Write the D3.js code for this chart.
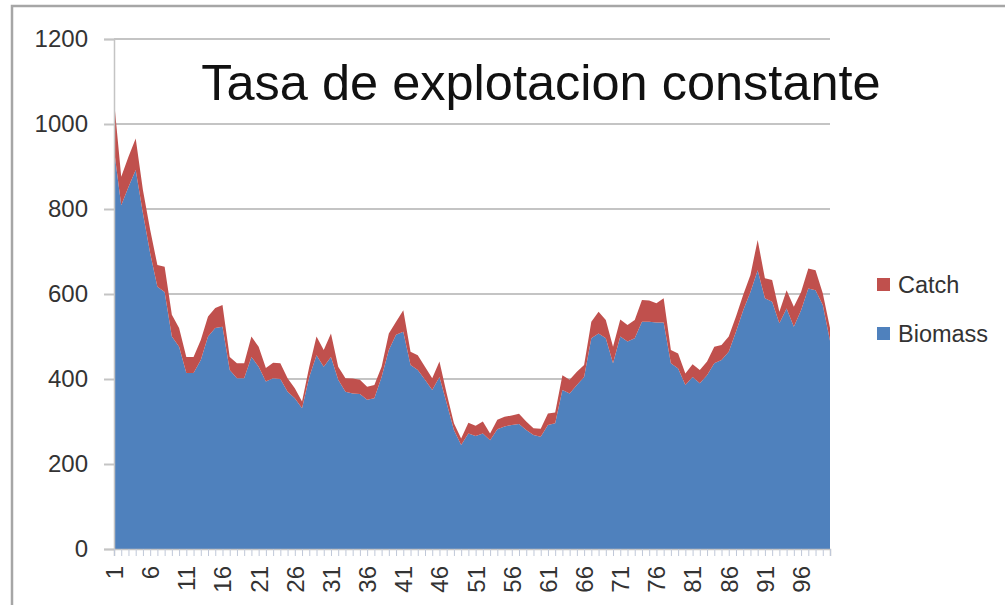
<!DOCTYPE html>
<html>
<head>
<meta charset="utf-8">
<script src="https://cdn.jsdelivr.net/npm/d3@7"></script>
<style>
  html, body { margin: 0; padding: 0; background: #ffffff; }
  svg { display: block; }
</style>
</head>
<body>
<svg id="chart" width="1005" height="605"></svg>
<script>
// ---- data ----
const categories = d3.range(1, 101);
const biomass = [
  940, 809, 852, 892, 790, 696, 617, 605, 500, 476,
  414, 414, 445, 500, 520, 523, 421, 402, 402, 452,
  429, 394, 402, 400, 370, 355, 331, 405, 456, 429,
  452, 398, 370, 366, 365, 351, 355, 405, 468, 504,
  511, 433, 421, 398, 374, 405, 343, 280, 245, 272,
  266, 272, 256, 282, 288, 292, 294, 280, 268, 264,
  292, 296, 374, 366, 386, 405, 496, 507, 496, 437,
  500, 488, 496, 535, 535, 533, 533, 437, 425, 386,
  405, 390, 409, 437, 445, 464, 511, 562, 605, 656,
  590, 582, 531, 566, 523, 562, 613, 609, 574, 490
];
const totals = [
  1056, 876, 923, 966, 845, 751, 668, 664, 551, 520,
  452, 452, 492, 547, 567, 574, 452, 437, 437, 500,
  476, 426, 438, 437, 402, 378, 347, 429, 500, 468,
  507, 429, 402, 401, 398, 382, 386, 429, 507, 535,
  562, 464, 456, 429, 402, 441, 366, 296, 260, 297,
  290, 300, 272, 304, 311, 314, 318, 300, 284, 283,
  319, 321, 409, 398, 417, 433, 535, 558, 539, 476,
  540, 527, 539, 586, 585, 578, 590, 468, 460, 413,
  435, 421, 441, 476, 480, 500, 547, 598, 645, 727,
  637, 633, 558, 609, 570, 605, 660, 656, 602, 520
];
const catchVals = totals.map((t, i) => t - biomass[i]);
const seriesNames = ["Biomass", "Catch"];
const legendOrder = ["Catch", "Biomass"];
const yTicks = [0, 200, 400, 600, 800, 1000, 1200];
const titleText = "Tasa de explotacion constante";

// ---- setup ----
const colors = { Biomass: "#4F81BD", Catch: "#C0504D" };
const svg = d3.select("#chart");
const plotLeft = 114, plotRight = 830, plotTop = 39, plotBottom = 549;

const rows = categories.map((c, i) => ({ cat: c, Biomass: biomass[i], Catch: catchVals[i] }));

const x = d3.scalePoint().domain(categories).range([plotLeft, plotRight]);
const y = d3.scaleLinear().domain([0, 1200]).range([plotBottom, plotTop]);

// frame
svg.append("rect").attr("x", 12).attr("y", 6).attr("width", 1010).attr("height", 610)
  .attr("fill", "none").attr("stroke", "#A6A6A6").attr("stroke-width", 2.5);

// gridlines
svg.append("g").selectAll("line").data(yTicks.filter(d => d > 0)).join("line")
  .attr("x1", plotLeft).attr("x2", plotRight)
  .attr("y1", d => y(d)).attr("y2", d => y(d))
  .attr("stroke", "#C4C4C4").attr("stroke-width", 2);

// stacked areas
const stack = d3.stack().keys(seriesNames)(rows);
const area = d3.area()
  .x(d => x(d.data.cat))
  .y0(d => y(d[0]))
  .y1(d => y(d[1]));
svg.append("g").selectAll("path").data(stack).join("path")
  .attr("d", area)
  .attr("fill", d => colors[d.key]);

// y axis
const yAxis = d3.axisLeft(y).tickValues(yTicks).tickSize(10).tickPadding(16)
  .tickFormat(d3.format("d"));
const gy = svg.append("g").attr("transform", `translate(${plotLeft},0)`).call(yAxis);
gy.select(".domain").attr("stroke", "#C4C4C4").attr("stroke-width", 1.5);
gy.selectAll(".tick line").attr("stroke", "#C4C4C4").attr("stroke-width", 2);
gy.selectAll(".tick text")
  .attr("font-family", "Liberation Sans, Arial, sans-serif")
  .attr("font-size", 24).attr("fill", "#333");

// x axis
const xAxis = d3.axisBottom(x).tickValues(categories).tickSize(7)
  .tickFormat(d => ((d - 1) % 5 === 0 ? d : ""));
const gx = svg.append("g").attr("transform", `translate(0,${plotBottom})`).call(xAxis);
gx.select(".domain").attr("stroke", "#C4C4C4").attr("stroke-width", 1.5);
gx.selectAll(".tick line").attr("stroke", "#C0C8D8").attr("stroke-width", 1);
gx.selectAll(".tick text")
  .attr("font-family", "Liberation Sans, Arial, sans-serif")
  .attr("font-size", 24).attr("fill", "#333")
  .attr("transform", "rotate(-90)")
  .attr("text-anchor", "end")
  .attr("x", -17).attr("y", 0).attr("dy", "0.35em");

// title
svg.append("text")
  .attr("x", 541).attr("y", 100)
  .attr("text-anchor", "middle")
  .attr("font-family", "Liberation Sans, Arial, sans-serif")
  .attr("font-size", 50.5).attr("fill", "#111")
  .text(titleText);

// legend
const lg = svg.append("g").selectAll("g").data(legendOrder).join("g")
  .attr("transform", (d, i) => `translate(877,${285 + i * 49})`);
lg.append("rect").attr("x", 0).attr("y", -7).attr("width", 13).attr("height", 13)
  .attr("fill", d => colors[d]);
lg.append("text").attr("x", 21).attr("y", 0).attr("dy", "0.35em")
  .attr("font-family", "Liberation Sans, Arial, sans-serif")
  .attr("font-size", 23.5).attr("fill", "#333")
  .text(d => d);
</script>
</body>
</html>
